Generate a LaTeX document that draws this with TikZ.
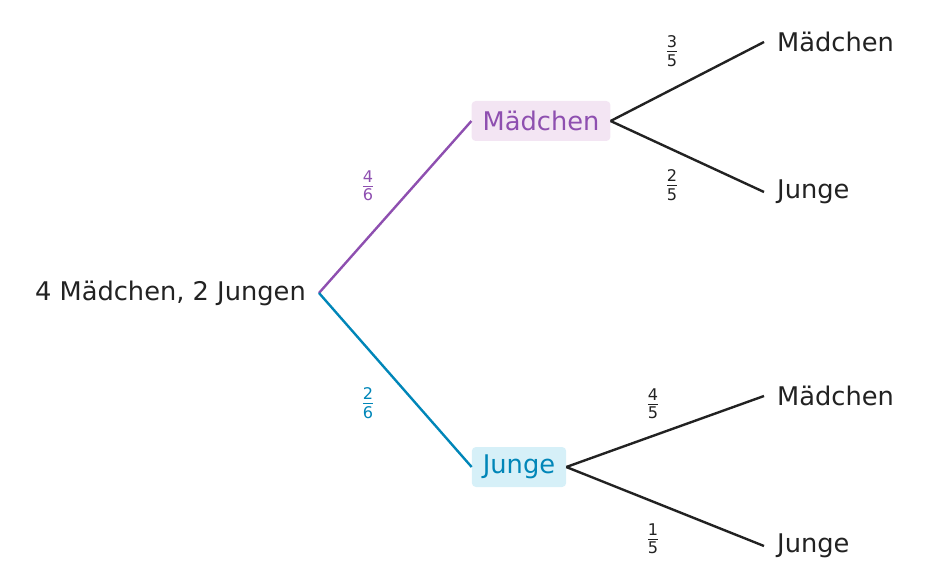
\documentclass[tikz,border=0pt]{standalone}
\usepackage{amsmath}
\usepackage{fontspec}
\setmainfont{DejaVu Sans}
\definecolor{pur}{HTML}{8E4FB0}
\definecolor{purbg}{HTML}{F3E5F3}
\definecolor{blu}{HTML}{0086B8}
\definecolor{blubg}{HTML}{D6F0F8}
\definecolor{ink}{HTML}{222222}
\begin{document}
\begin{tikzpicture}[x=1pt,y=-1pt,
  txt/.style={font=\fontsize{25.7}{30}\selectfont,text=ink,inner sep=0pt},
  box/.style={font=\fontsize{25.7}{30}\selectfont,rounded corners=4pt,minimum height=40pt,inner xsep=11pt},
  fr/.style={font=\fontsize{23}{26}\selectfont,inner sep=0pt},
  ln/.style={line width=2.4pt,ink}]
\useasboundingbox (0,0) rectangle (927,588);
\node[txt,anchor=east] (r) at (306,293) {4 Mädchen, 2 Jungen};
\coordinate (rp) at (319,293);
\node[box,fill=purbg,text=pur] (m) at (541,121) {Mädchen};
\node[box,fill=blubg,text=blu] (j) at (519,467) {Junge};
\draw[line width=2.4pt,pur] (rp) -- (m.west);
\draw[line width=2.4pt,blu] (rp) -- (j.west);
\node[txt,anchor=west] (mm) at (777,42) {Mädchen};
\node[txt,anchor=west] (mj) at (777,192) {Junge};
\node[txt,anchor=west] (jm) at (777,396) {Mädchen};
\node[txt,anchor=west] (jj) at (777,546) {Junge};
\draw[ln] (m.east) -- ([xshift=-13pt]mm.west);
\draw[ln] (m.east) -- ([xshift=-13pt]mj.west);
\draw[ln] (j.east) -- ([xshift=-13pt]jm.west);
\draw[ln] (j.east) -- ([xshift=-13pt]jj.west);
\node[fr,text=pur] (f1) at (368,186) {$\frac{\text{4}}{\text{6}}$};
\node[fr,text=blu] (f2) at (368,403) {$\frac{\text{2}}{\text{6}}$};
\node[fr,text=ink] (f3) at (672,51) {$\frac{\text{3}}{\text{5}}$};
\node[fr,text=ink] (f4) at (672,185) {$\frac{\text{2}}{\text{5}}$};
\node[fr,text=ink] (f5) at (653,404) {$\frac{\text{4}}{\text{5}}$};
\node[fr,text=ink] (f6) at (653,539) {$\frac{\text{1}}{\text{5}}$};
\end{tikzpicture}
\end{document}
